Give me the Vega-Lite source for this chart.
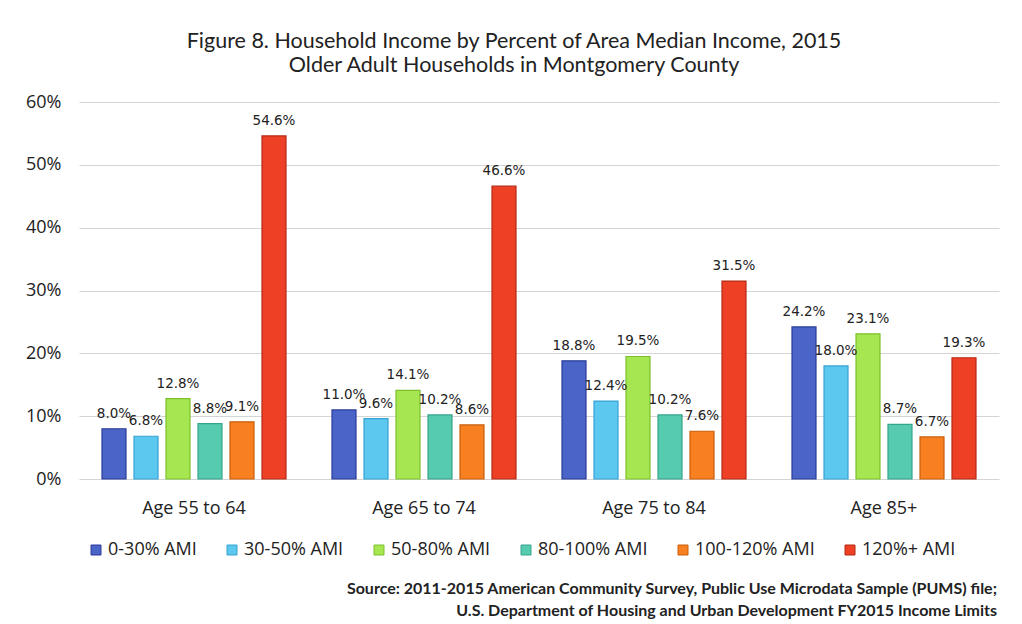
{
  "$schema": "https://vega.github.io/schema/vega-lite/v6.json",
  "background": "white",
  "padding": {"left": 25, "top": 30, "right": 20, "bottom": 5},
  "title": {
    "text": ["Source: 2011-2015  American Community Survey, Public Use Microdata  Sample (PUMS)  file;", "U.S. Department of Housing and Urban Development FY2015  Income Limits"],
    "orient": "bottom", "anchor": "end", "font": "Lato", "fontSize": 16, "fontWeight": "bold",
    "color": "#222222", "lineHeight": 22, "offset": 14, "dx": -2
  },
  "config": {"view": {"stroke": null}, "concat": {"spacing": 0}},
  "vconcat": [
    {
      "width": 920,
      "height": 377,
      "title": {
        "text": ["Figure 8. Household Income by Percent of Area Median Income, 2015", "Older Adult Households in Montgomery County"],
        "font": "Lato", "fontSize": 21.5, "fontWeight": "normal", "color": "#222222",
        "anchor": "middle", "lineHeight": 24, "offset": 17, "dx": -25
      },
      "data": {
        "values": [
          {"age": "Age 55 to 64", "ami": "0-30% AMI", "value": 0.080},
          {"age": "Age 55 to 64", "ami": "30-50% AMI", "value": 0.068},
          {"age": "Age 55 to 64", "ami": "50-80% AMI", "value": 0.128},
          {"age": "Age 55 to 64", "ami": "80-100% AMI", "value": 0.088},
          {"age": "Age 55 to 64", "ami": "100-120% AMI", "value": 0.091},
          {"age": "Age 55 to 64", "ami": "120%+ AMI", "value": 0.546},
          {"age": "Age 65 to 74", "ami": "0-30% AMI", "value": 0.110},
          {"age": "Age 65 to 74", "ami": "30-50% AMI", "value": 0.096},
          {"age": "Age 65 to 74", "ami": "50-80% AMI", "value": 0.141},
          {"age": "Age 65 to 74", "ami": "80-100% AMI", "value": 0.102},
          {"age": "Age 65 to 74", "ami": "100-120% AMI", "value": 0.086},
          {"age": "Age 65 to 74", "ami": "120%+ AMI", "value": 0.466},
          {"age": "Age 75 to 84", "ami": "0-30% AMI", "value": 0.188},
          {"age": "Age 75 to 84", "ami": "30-50% AMI", "value": 0.124},
          {"age": "Age 75 to 84", "ami": "50-80% AMI", "value": 0.195},
          {"age": "Age 75 to 84", "ami": "80-100% AMI", "value": 0.102},
          {"age": "Age 75 to 84", "ami": "100-120% AMI", "value": 0.076},
          {"age": "Age 75 to 84", "ami": "120%+ AMI", "value": 0.315},
          {"age": "Age 85+", "ami": "0-30% AMI", "value": 0.242},
          {"age": "Age 85+", "ami": "30-50% AMI", "value": 0.180},
          {"age": "Age 85+", "ami": "50-80% AMI", "value": 0.231},
          {"age": "Age 85+", "ami": "80-100% AMI", "value": 0.087},
          {"age": "Age 85+", "ami": "100-120% AMI", "value": 0.067},
          {"age": "Age 85+", "ami": "120%+ AMI", "value": 0.193}
        ]
      },
      "encoding": {
        "x": {
          "field": "age", "type": "nominal",
          "sort": ["Age 55 to 64", "Age 65 to 74", "Age 75 to 84", "Age 85+"],
          "scale": {"paddingInner": 0.2, "paddingOuter": 0.1},
          "axis": {
            "title": null, "labelAngle": 0, "labelFont": "Open Sans", "labelFontSize": 18,
            "labelColor": "#222222", "domain": false, "ticks": false, "labelPadding": 20
          }
        },
        "xOffset": {
          "field": "ami", "type": "nominal",
          "sort": ["0-30% AMI", "30-50% AMI", "50-80% AMI", "80-100% AMI", "100-120% AMI", "120%+ AMI"],
          "scale": {"paddingInner": 0.25}
        },
        "y": {
          "field": "value", "type": "quantitative",
          "scale": {"domain": [0, 0.6]},
          "axis": {
            "title": null, "format": ".0%", "values": [0, 0.1, 0.2, 0.3, 0.4, 0.5, 0.6],
            "labelFont": "Open Sans", "labelFontSize": 18, "labelColor": "#222222",
            "domain": false, "ticks": false, "labelPadding": 18,
            "gridColor": "#d4d4d4", "gridWidth": 1.2
          }
        }
      },
      "layer": [
        {
          "mark": {"type": "bar", "strokeWidth": 1.2},
          "encoding": {
            "color": {
              "field": "ami", "type": "nominal",
              "sort": ["0-30% AMI", "30-50% AMI", "50-80% AMI", "80-100% AMI", "100-120% AMI", "120%+ AMI"],
              "scale": {
                "domain": ["0-30% AMI", "30-50% AMI", "50-80% AMI", "80-100% AMI", "100-120% AMI", "120%+ AMI"],
                "range": ["#4A64C8", "#5CC8F0", "#A6E650", "#57CBAF", "#F88020", "#EE4024"]
              },
              "legend": {
                "title": null, "orient": "bottom", "direction": "horizontal", "columns": 6,
                "symbolType": "square", "symbolSize": 100, "symbolStrokeWidth": 1,
                "labelFont": "Open Sans", "labelFontSize": 18, "labelColor": "#222222",
                "columnPadding": 26, "offset": 16, "padding": 8, "labelOffset": 3
              }
            },
            "stroke": {
              "field": "ami", "type": "nominal",
              "scale": {
                "domain": ["0-30% AMI", "30-50% AMI", "50-80% AMI", "80-100% AMI", "100-120% AMI", "120%+ AMI"],
                "range": ["#2A3C98", "#36A2D2", "#7CC02E", "#36A48A", "#C85E0C", "#B42A14"]
              },
              "legend": null
            }
          }
        },
        {
          "mark": {"type": "text", "baseline": "bottom", "dy": -8, "font": "DejaVu Sans", "fontSize": 13.5, "color": "#222222"},
          "encoding": {
            "text": {"field": "value", "type": "quantitative", "format": ".1%"}
          }
        }
      ]
    }
  ]
}
